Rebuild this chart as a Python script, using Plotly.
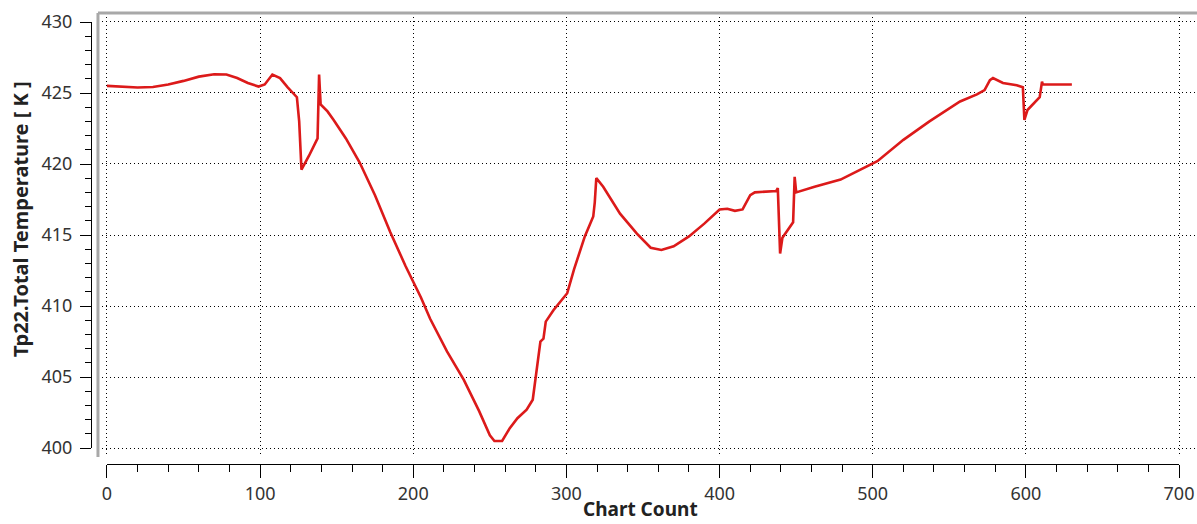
import plotly.graph_objects as go

# Chart data
chart_count = [0, 10, 20, 30, 40, 50, 60, 70, 78, 85, 92, 99, 103, 108, 113, 118, 122, 124, 125.5, 127,
               132, 137.5, 138.5, 139.5, 144, 148, 156, 165, 175, 185, 195, 205, 211, 222, 233, 243, 250,
               253, 258, 263, 268, 274, 278, 280, 283, 285, 286.5, 291.5, 300.5, 305, 312, 317.5, 318.5,
               319.5, 324, 335, 346, 355, 362, 370, 380, 390, 400, 405, 410, 415, 420, 423, 430, 437, 438,
               439.5, 441, 448, 449, 450, 462, 479, 490, 503, 520, 537, 557, 568, 573, 576.5, 578.5, 585,
               594, 598, 599, 601, 609, 610.5, 611, 630]
total_temperature = [425.5, 425.45, 425.38, 425.42, 425.6, 425.85, 426.15, 426.32, 426.3, 426.05, 425.7,
                     425.45, 425.6, 426.3, 426.05, 425.4, 424.95, 424.7, 423.0, 419.6,
                     420.6, 421.8, 426.3, 424.2, 423.7, 423.1, 421.8, 420.1, 417.8, 415.2, 412.8, 410.6,
                     409.1, 406.8, 404.8, 402.6, 400.9,
                     400.5, 400.5, 401.4, 402.1, 402.7, 403.4, 405.0, 407.5, 407.7, 408.9, 409.7, 410.9,
                     412.6, 414.9, 416.3, 417.3,
                     419.0, 418.4, 416.5, 415.1, 414.1, 413.95, 414.2, 414.9, 415.8, 416.8, 416.85, 416.7,
                     416.8, 417.8, 418.0, 418.05, 418.1, 418.3,
                     413.7, 414.8, 415.9, 419.1, 418.0, 418.4, 418.9, 419.5, 420.2, 421.7, 423.0, 424.4,
                     424.9, 425.2, 425.9, 426.05, 425.7,
                     425.55, 425.4, 423.1, 423.8, 424.7, 425.8, 425.6, 425.6]

x_ticks = [0, 100, 200, 300, 400, 500, 600, 700]
y_ticks = [400, 405, 410, 415, 420, 425, 430]
x_title = "Chart Count"
y_title = "Tp22.Total Temperature [ K ]"

# The page is photographed slightly wider than 1197 px and then fitted to 1197 px,
# so horizontal positions are laid out on a 1212 px wide figure.
TARGET_W, H = 1197, 524
W = 1212
SX = W / TARGET_W
ML, MR, MT, MB = 80, 0, 13, 50
PW = W - ML - MR
PH = H - MT - MB


def fx(px):
    return (px * SX - ML) / PW


def fy(py):
    return (H - MB - py) / PH


font_family = "Noto Sans"
tick_font = dict(family=font_family, size=18, color="#333333")
grid_dash = "1px,3px"

fig = go.Figure()
fig.add_trace(go.Scatter(x=chart_count, y=total_temperature, mode="lines",
                         line=dict(color="#dc1a1a", width=2.6), hoverinfo="skip",
                         showlegend=False, xaxis="x", yaxis="y"))
fig.add_trace(go.Scatter(x=chart_count, y=total_temperature, mode="lines",
                         line=dict(color="rgba(0,0,0,0)", width=0), opacity=0,
                         hoverinfo="skip", showlegend=False, xaxis="x2", yaxis="y2"))

fig.update_layout(
    width=W, height=H, autosize=False,
    margin=dict(l=ML, r=MR, t=MT, b=MB, pad=0),
    paper_bgcolor="white", plot_bgcolor="rgba(0,0,0,0)",
    showlegend=False,
    xaxis=dict(domain=[fx(97), 1], range=[-5.87, 711.7], tickvals=x_ticks,
               showgrid=True, gridcolor="black", gridwidth=1, griddash=grid_dash,
               showticklabels=False, ticks="", zeroline=False, showline=False,
               anchor="y", fixedrange=True),
    yaxis=dict(domain=[fy(457), 1], range=[399.37, 430.63], tickvals=y_ticks,
               showgrid=True, gridcolor="black", gridwidth=1, griddash=grid_dash,
               showticklabels=False, ticks="", zeroline=False, showline=False,
               anchor="x", fixedrange=True),
    xaxis2=dict(domain=[fx(106), fx(1179)], range=[0, 700], tickvals=x_ticks,
                anchor="free", position=fy(464), side="bottom",
                showline=True, linecolor="black", linewidth=1,
                ticks="outside", ticklen=13, tickwidth=1, tickcolor="black",
                minor=dict(dtick=20, tick0=0, ticks="outside", ticklen=7, tickwidth=1,
                           tickcolor="black", showgrid=False),
                showgrid=False, zeroline=False, tickfont=tick_font, fixedrange=True),
    yaxis2=dict(domain=[fy(448), fy(22)], range=[400, 430], tickvals=y_ticks,
                anchor="free", position=fx(90), side="left",
                showline=True, linecolor="black", linewidth=1,
                ticks="outside", ticklen=11, tickwidth=1, tickcolor="black",
                minor=dict(dtick=1, tick0=400, ticks="outside", ticklen=6, tickwidth=1,
                           tickcolor="black", showgrid=False),
                ticklabelstandoff=4,
                showgrid=False, zeroline=False, tickfont=tick_font, fixedrange=True),
    shapes=[
        dict(type="line", xref="x domain", yref="y domain", x0=0, x1=1, y0=1, y1=1,
             line=dict(color="#a8a8a8", width=3), layer="above"),
        dict(type="line", xref="x domain", yref="y domain", x0=0, x1=0, y0=0, y1=1,
             line=dict(color="#a8a8a8", width=3), layer="above"),
    ],
    annotations=[
        dict(text="<b>" + y_title + "</b>", xref="paper", yref="paper",
             x=fx(20), y=fy(219), xanchor="center", yanchor="middle", textangle=-90,
             showarrow=False, font=dict(family=font_family, size=20, color="#222222")),
        dict(text="<b>" + x_title + "</b>", xref="paper", yref="paper",
             x=fx(640), y=fy(524), xanchor="center", yanchor="bottom",
             showarrow=False, font=dict(family=font_family, size=19, color="#222222")),
    ],
)

fig.write_html(
    "out.html",
    config={"responsive": False, "displayModeBar": False},
    post_script=(
        "document.body.style.margin='0px';"
        "document.body.style.overflow='hidden';"
    ),
)
